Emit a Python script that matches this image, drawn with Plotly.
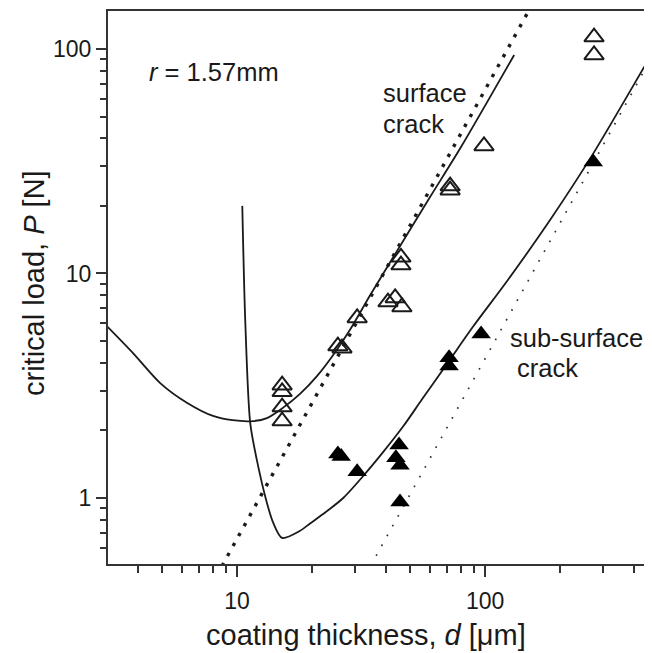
import plotly.graph_objects as go

# ---- data ----
# open triangles: surface crack
surf_d = [15.2, 15.2, 15.2, 15.2, 25.5, 26.5, 30.5, 40.6, 43.4, 46.2, 45.8, 45.8, 72.3, 72.3, 99, 275, 275]
surf_P = [3.18, 2.97, 2.54, 2.20, 4.75, 4.65, 6.34, 7.46, 7.78, 7.09, 11.8, 10.9, 24.5, 23.5, 37.0, 113, 94]

# filled triangles: sub-surface crack
sub_d = [25.5, 26.3, 30.5, 45.0, 43.7, 45.4, 45.4, 71.6, 71.6, 96.4, 273]
sub_P = [1.57, 1.53, 1.31, 1.72, 1.51, 1.40, 0.96, 4.21, 3.87, 5.37, 31.4]

# solid curve through surface-crack data
curve_surf_d = [3.0, 3.8, 4.9, 6.3, 8.0, 9.6, 11.6, 13.2, 15.3, 17.9, 21.0, 24.5, 28.5, 34.4, 42.6, 60, 79.3, 131]
curve_surf_P = [5.8, 4.43, 3.25, 2.65, 2.32, 2.22, 2.20, 2.27, 2.52, 2.90, 3.49, 4.36, 5.6, 8.0, 11.8, 21.9, 36, 94]

# solid curve through sub-surface data
curve_sub_d = [10.5, 10.8, 11.3, 12.0, 13.2, 14.0, 15.2, 17.9, 19.7, 22.8, 26.8, 32.2, 38.8, 46.7, 55.7, 71.6, 89.5, 124, 186, 272, 450, 468]
curve_sub_P = [20, 6.03, 2.16, 1.49, 0.95, 0.774, 0.664, 0.713, 0.77, 0.866, 1.0, 1.25, 1.6, 2.08, 2.75, 4.08, 5.8, 9.4, 17.8, 34.0, 87.5, 94]

# dotted limit lines (straight on log-log)
dot_surf_d = [8.7, 150]
dot_surf_P = [0.498, 148]
dot_sub_d = [34.6, 470]
dot_sub_P = [0.5, 92]

# axis ticks
x_major = [10, 100]
x_major_text = ["10", "100"]
x_minor = [3, 4, 5, 6, 7, 8, 9, 20, 30, 40, 50, 60, 70, 80, 90, 200, 300, 400]
y_major = [1, 10, 100]
y_major_text = ["1", "10", "100"]
y_minor = [0.6, 0.7, 0.8, 0.9, 2, 3, 4, 5, 6, 7, 8, 9, 20, 30, 40, 50, 60, 70, 80, 90]

FONT = "Liberation Sans, Arial, sans-serif"
INK = "#1a1a1a"

fig = go.Figure()

fig.add_trace(go.Scatter(x=dot_surf_d, y=dot_surf_P, mode="lines",
                         line=dict(color=INK, width=3.4, dash="3.4px,8px"),
                         hoverinfo="skip", showlegend=False))
fig.add_trace(go.Scatter(x=dot_sub_d, y=dot_sub_P, mode="lines",
                         line=dict(color="#333333", width=1.7, dash="1.7px,9.5px"),
                         hoverinfo="skip", showlegend=False))
fig.add_trace(go.Scatter(x=curve_surf_d, y=curve_surf_P, mode="lines",
                         line=dict(color=INK, width=1.8, shape="spline", smoothing=0.8),
                         hoverinfo="skip", showlegend=False))
fig.add_trace(go.Scatter(x=curve_sub_d, y=curve_sub_P, mode="lines",
                         line=dict(color=INK, width=1.8, shape="spline", smoothing=0.8),
                         hoverinfo="skip", showlegend=False))
fig.add_trace(go.Scatter(x=surf_d, y=surf_P, mode="markers",
                         marker=dict(symbol="triangle-up-open", size=17, color=INK,
                                     line=dict(width=2, color=INK)),
                         showlegend=False))
fig.add_trace(go.Scatter(x=sub_d, y=sub_P, mode="markers",
                         marker=dict(symbol="triangle-up", size=17, color="#000000",
                                     line=dict(width=0)),
                         showlegend=False))

fig.update_xaxes(type="log", range=[0.4798, 2.673],
                 tickmode="array", tickvals=x_major, ticktext=x_major_text,
                 ticks="outside", ticklen=11, tickwidth=2, tickcolor="#333333",
                 ticklabelstandoff=4,
                 minor=dict(tickmode="array", tickvals=x_minor, ticks="outside",
                            ticklen=7, tickwidth=2, tickcolor="#333333"),
                 showline=True, linewidth=2, linecolor="#333333", mirror=True,
                 showgrid=False, zeroline=False,
                 tickfont=dict(family=FONT, size=23, color=INK))
fig.update_yaxes(type="log", range=[-0.294, 2.169],
                 tickmode="array", tickvals=y_major, ticktext=y_major_text,
                 ticks="outside", ticklen=10, tickwidth=2, tickcolor="#333333",
                 minor=dict(tickmode="array", tickvals=y_minor, ticks="outside",
                            ticklen=6, tickwidth=2, tickcolor="#333333"),
                 showline=True, linewidth=2, linecolor="#333333",
                 showgrid=False, zeroline=False,
                 tickfont=dict(family=FONT, size=23, color=INK))

# page body has an 8px margin: lay out in screen pixels, then shift
OFF = 8
W, H = 652 - OFF, 653 - OFF
L, R, T, B = 108 - OFF, 0, 11 - OFF, 653 - 564
pw, ph = W - L - R, H - T - B


def px(x, y):
    return (x - OFF - L) / pw, 1 - (y - OFF - T) / ph


annots = [
    dict(text="<i>r</i> = 1.57mm", x=147, y=72),
    dict(text="surface", x=381, y=93),
    dict(text="crack", x=381, y=124),
    dict(text="sub-surface", x=508, y=338),
    dict(text="crack", x=515, y=368),
]
for a in annots:
    ax_, ay_ = px(a["x"], a["y"])
    fig.add_annotation(text=a["text"], xref="paper", yref="paper", x=ax_, y=ay_,
                       xanchor="left", yanchor="middle", showarrow=False,
                       font=dict(family=FONT, size=25.5, color=INK))
# axis titles
tx, ty = px(366, 635)
fig.add_annotation(text="coating thickness, <i>d</i> [μm]", xref="paper", yref="paper",
                   x=tx, y=ty, xanchor="center", yanchor="middle",
                   showarrow=False, font=dict(family=FONT, size=29, color=INK))
tx, ty = px(34, 283)
fig.add_annotation(text="critical load, <i>P</i> [N]", xref="paper", yref="paper",
                   x=tx, y=ty, xanchor="center", yanchor="middle",
                   textangle=-90, showarrow=False, font=dict(family=FONT, size=29, color=INK))

fig.update_layout(width=W, height=H, margin=dict(l=L, r=R, t=T, b=B, autoexpand=False),
                  paper_bgcolor="white", plot_bgcolor="white", showlegend=False)

fig.write_html("out.html")
